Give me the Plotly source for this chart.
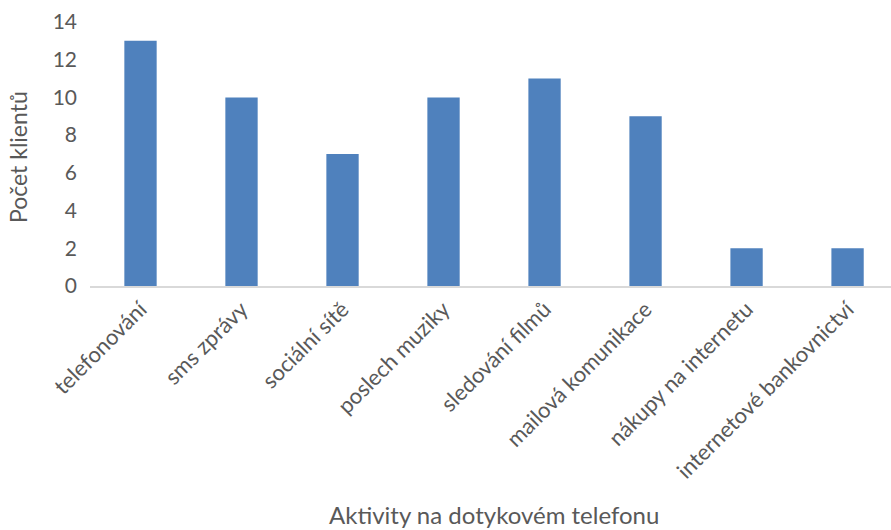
import plotly.graph_objects as go

categories = ["telefonování", "sms zprávy", "sociální sítě", "poslech muziky",
              "sledování filmů", "mailová komunikace", "nákupy na internetu",
              "internetové bankovnictví"]
values = [13, 10, 7, 10, 11, 9, 2, 2]
y_ticks = [0, 2, 4, 6, 8, 10, 12, 14]

FONT = "Lato"
GRAY = "#595959"

fig = go.Figure(go.Bar(
    x=categories, y=values,
    marker=dict(color="#4F81BD", line=dict(width=0)),
    width=0.32,
))

L, T, B, W, H = 90, 22, 244, 891, 530
plot_w = W - L
plot_h = H - T - B

fig.update_layout(
    width=W, height=H,
    margin=dict(l=L, r=0, t=T, b=B),
    paper_bgcolor="white", plot_bgcolor="white",
    showlegend=False,
    font=dict(family=FONT, color=GRAY, size=20),
    xaxis=dict(
        range=[-0.5, 7.43],
        tickangle=-45,
        tickfont=dict(size=22, color=GRAY, family=FONT),
        showline=True, linecolor="#D9D9D9", linewidth=1.5,
        showgrid=False, ticks="",
    ),
    yaxis=dict(
        range=[0, 14], tickvals=y_ticks,
        tickfont=dict(size=21, color=GRAY, family=FONT),
        showgrid=False, zeroline=False, showline=False, ticks="",
        ticklabelstandoff=12,
    ),
    annotations=[
        dict(text="Počet klientů", textangle=-90, showarrow=False,
             xref="paper", yref="paper",
             x=(18 - L) / plot_w, y=(T + plot_h - 157) / plot_h,
             xanchor="center", yanchor="middle",
             font=dict(size=23, color=GRAY, family=FONT)),
        dict(text="Aktivity na dotykovém telefonu", showarrow=False,
             xref="paper", yref="paper",
             x=(494 - L) / plot_w, y=(T + plot_h - 514) / plot_h,
             xanchor="center", yanchor="middle",
             font=dict(size=24, color=GRAY, family=FONT)),
    ],
)

fig.write_html("out.html")
